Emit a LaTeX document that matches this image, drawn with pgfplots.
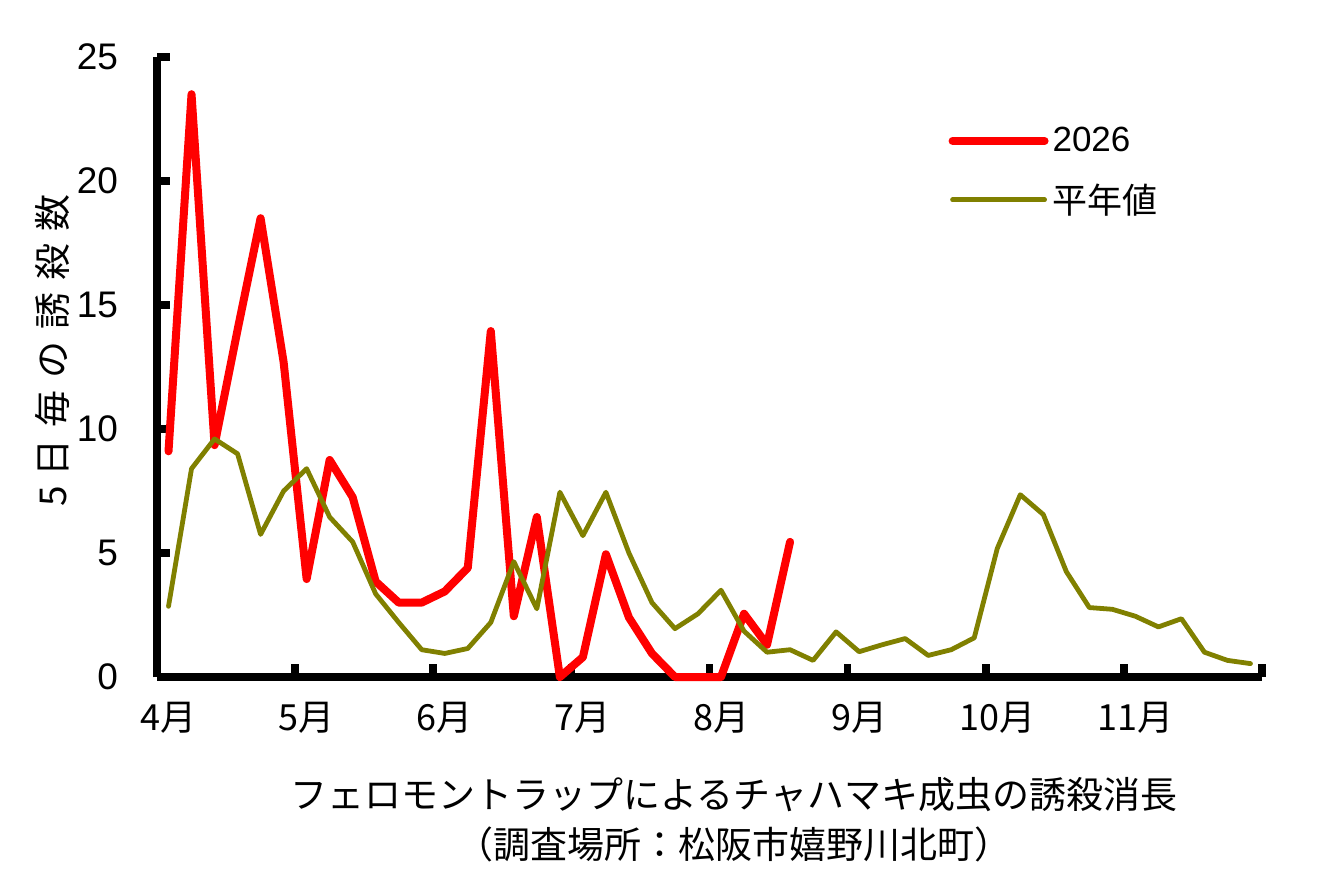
\documentclass[border=0pt]{standalone}
\usepackage{fontspec}
\setmainfont{Liberation Sans}
\newfontfamily\jp{Noto Sans CJK JP}
\usepackage{pgfplots}
\pgfplotsset{compat=1.18}
\definecolor{olivec}{HTML}{808000}
\definecolor{redc}{HTML}{FF0000}
\begin{document}
\begin{tikzpicture}
\useasboundingbox (-78.5bp,-108.5bp) rectangle (580bp,338.5bp);
\begin{axis}[
  at={(0,0)}, anchor=south west,
  scale only axis, width=552.5bp, height=310bp,
  xmin=-0.5, xmax=47.5, ymin=0, ymax=25,
  axis x line=bottom, axis y line=left,
  axis line style={-, line width=4.2bp, black},
  clip=false,
  ytick={0,5,10,15,20,25},
  xtick={-0.5,5.5,11.5,17.5,23.5,29.5,35.5,41.5,47.5},
  xticklabels={},
  extra x ticks={0,6,12,18,24,30,36,42},
  extra x tick labels={4月,5月,6月,7月,8月,9月,10月,11月},
  extra x tick style={major tick length=0pt},
  tick align=inside, major tick length=6.5bp,
  tick style={line width=3.8bp, black},
  /pgf/number format/assume math mode=true,
  yticklabel style={font=\fontsize{18.5bp}{21bp}\selectfont, xshift=-16bp},
  xticklabel style={font=\fontsize{18bp}{21bp}\jp, yshift=-9bp},
  ylabel={5\hspace{5bp}日\hspace{6bp}毎\hspace{6bp}の\hspace{6bp}誘\hspace{6bp}殺\hspace{6bp}数},
  ylabel style={at={(axis description cs:-0.095,0.527)}, anchor=center, font=\fontsize{18.5bp}{20bp}\jp},
  xlabel={フェロモントラップによるチャハマキ成虫の誘殺消長\\（調査場所：松阪市嬉野川北町）},
  xlabel style={at={(axis description cs:0.522,-0.2306)}, anchor=center, align=center, font=\fontsize{18.5bp}{25bp}\jp},
  legend style={draw=none, fill=none, at={(rel axis cs:0.716,0.815)}, anchor=west,
    font=\fontsize{17.5bp}{20bp}\selectfont, row sep=10.5bp, inner sep=0pt},
  legend cell align=left,
  legend image code/.code={\draw[#1] (0bp,0bp) -- (46bp,0bp);},
]
\addplot[redc, line width=4bp, line join=round, line cap=round] coordinates {
(0,9.1) (1,23.5) (2,9.35) (3,14.0) (4,18.5) (5,12.7) (6,3.95) (7,8.75) (8,7.25) (9,3.85)
(10,3.0) (11,3.0) (12,3.45) (13,4.4) (14,13.95) (15,2.45) (16,6.45) (17,0) (18,0.8) (19,4.95)
(20,2.4) (21,0.95) (22,0) (23,0) (24,0) (25,2.55) (26,1.3) (27,5.45)
};
\addlegendentry{2026}
\addplot[olivec, line width=2.4bp, line join=round, line cap=round] coordinates {
(0,2.85) (1,8.4) (2,9.6) (3,9.0) (4,5.75) (5,7.5) (6,8.4) (7,6.45) (8,5.45) (9,3.35)
(10,2.2) (11,1.1) (12,0.95) (13,1.15) (14,2.2) (15,4.65) (16,2.75) (17,7.45) (18,5.7) (19,7.45)
(20,5.0) (21,3.0) (22,1.95) (23,2.55) (24,3.5) (25,1.85) (26,1.0) (27,1.1) (28,0.67) (29,1.82)
(30,1.02) (31,1.3) (32,1.55) (33,0.87) (34,1.1) (35,1.58) (36,5.18) (37,7.35) (38,6.55) (39,4.25)
(40,2.8) (41,2.73) (42,2.45) (43,2.02) (44,2.35) (45,1.0) (46,0.67) (47,0.54)
};
\addlegendentry{{\jp 平年値}}
\end{axis}
\end{tikzpicture}
\end{document}
